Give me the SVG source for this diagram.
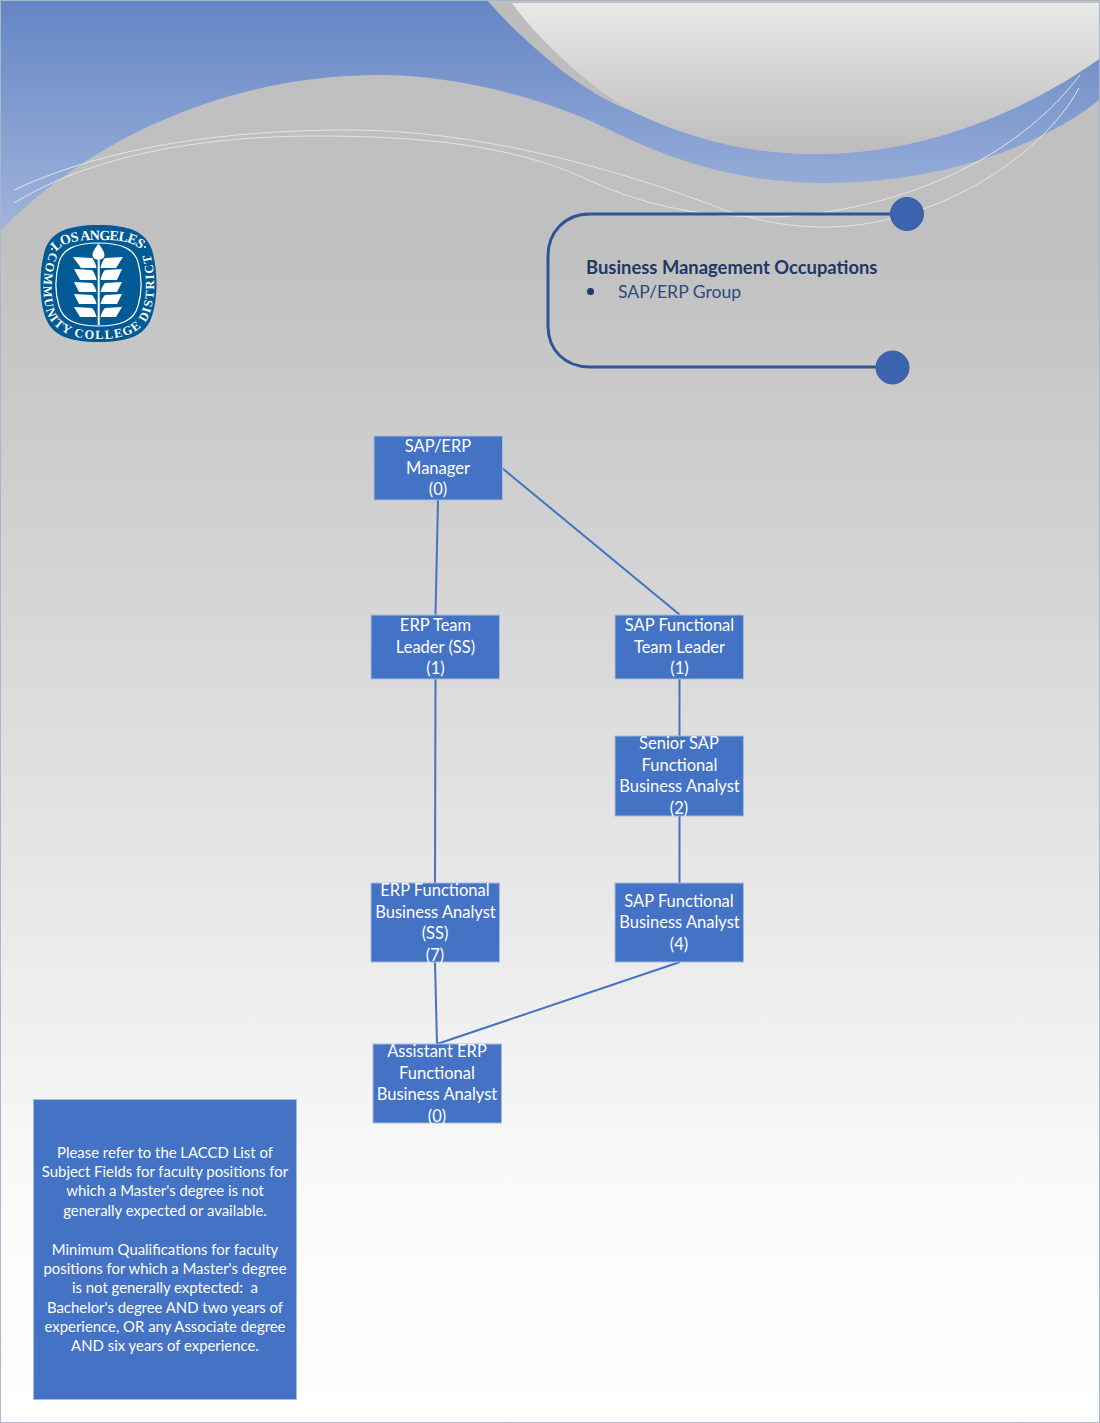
<svg xmlns="http://www.w3.org/2000/svg" xmlns:xlink="http://www.w3.org/1999/xlink" width="1100" height="1423" viewBox="0 0 1100 1423">
<style>
.t{font-family:"Lato","Noto Sans",sans-serif;fill:#fff;font-size:16.5px;text-anchor:middle}
.n{font-family:"Lato","Noto Sans",sans-serif;fill:#fff;font-size:14.9px;text-anchor:middle}
.b{fill:#4472c4;stroke:#a9bbdc;stroke-width:1}
.c{stroke:#4472c4;stroke-width:2;fill:none}
.w{stroke:#e4e4e4;stroke-width:1;fill:none}
.d{fill:#3c63ad;stroke:#3a5fa5;stroke-width:1}
.lg{font-family:"Liberation Serif",serif;fill:#fff;font-weight:bold}
.lf{fill:#fff}
</style>
<defs>
<linearGradient id="bg" x1="0" y1="0" x2="0" y2="1"><stop offset="0" stop-color="#bfbfbf"/><stop offset=".17" stop-color="#c0c0c0"/><stop offset=".84" stop-color="#fafafa"/><stop offset="1" stop-color="#fff"/></linearGradient>
<linearGradient id="bl" gradientUnits="userSpaceOnUse" x1="0" y1="0" x2="0" y2="230"><stop offset="0" stop-color="#6486c4"/><stop offset="1" stop-color="#a0b4dc"/></linearGradient>
<linearGradient id="wh" gradientUnits="userSpaceOnUse" x1="0" y1="3" x2="0" y2="150"><stop offset="0" stop-color="#e9e9e9"/><stop offset="1" stop-color="#bdbdbd"/></linearGradient>
<path id="lt" d="M56 252C64 241 80 240 98 240C118 240 133 241 141 250"/>
<path id="lb" d="M50 252C42 272 41 300 49 318C60 336 80 339 98 339C118 339 138 336 148 318C156 300 156 272 149 250"/>
</defs>
<rect id="page" x="0.5" y="0.5" width="1099" height="1422" fill="url(#bg)" stroke="#aab4cc"/>
<path id="band" fill="url(#bl)" d="M1 1H488C560 85 680 154 814 154C920 154 1020 115 1099 59V100C1050 140 950 183 825 183C740 183 670 160 610 130C550 100 460 75 379 75C240 75 100 130 1 230Z"/>
<path id="sliver" fill="#bdbdbd" d="M488 1H514L628 110C570 85 530 45 488 1Z"/>
<path id="bowl" fill="url(#wh)" d="M512 3H1099V59C1020 115 920 154 814 154C747 154 683.500 136.750 627.750 108.900C580 80 535 35 512 3Z"/>
<g id="swooshes">
<path class="w" d="M14 190C110 145 230 130 351 130C470 130 610 165 730 212C765 222 790 227 825 227C930 227 1040 160 1079 88"/>
<path class="w" d="M14 203C100 150 220 136 316 136C420 136 510 145 582 177C630 200 690 218 770 217C860 215 1000 180 1080 75"/>
</g>
<g id="logo">
<path fill="#005a96" d="M98.500 225C130 225 146 232 152 250C158 270 158 298 152 316C146 335 130 342 98.500 342C68 342 51 335 45 316C39 298 39 270 45 250C51 232 68 225 98.500 225Z"/>
<path fill="none" stroke="#fff" stroke-width="1.2" d="M98.500 243C122 243 134 249 138 262C142 277 142 293 138 306C134 320 122 326 98.500 326C75 326 63 320 59 306C55 293 55 277 59 262C63 249 75 243 98.500 243Z"/>
<path class="lf" d="M98.500 243.500C103 250 105.500 253 104 257C102.500 260.500 94.500 260.500 93 257C91.500 253 94 250 98.500 243.500Z"/>
<rect class="lf" x="97.700" y="258" width="2" height="67"/>
<path class="lf" d="M73 257L92 258C94 260 95.500 263 96.500 268H81ZM123 257L105 258C103 260 101.500 263 100.500 268H116ZM74 269L92 270C94 272 95.500 275 96.500 280H80ZM122 269L105 270C103 272 101.500 275 100.500 280H117ZM74 282L92 283C94 285 95.500 288 96.500 292H79ZM122 282L105 283C103 285 101.500 288 100.500 292H117ZM74 294L92 295C94 297 95.500 300 96.500 304H79ZM122 294L105 295C103 297 101.500 300 100.500 304H117ZM74 307L92 308C94 310 95.500 313 96.500 317H80ZM122 307L105 308C103 310 101.500 313 100.500 317H116Z"/>
<circle class="lf" cx="52" cy="249" r="1"/><circle class="lf" cx="145" cy="247" r="1"/>
<text class="lg" font-size="14"><textPath xlink:href="#lt" href="#lt" textLength="90">LOS ANGELES</textPath></text>
<text class="lg" font-size="12.500"><textPath xlink:href="#lb" href="#lb" textLength="245">COMMUNITY COLLEGE DISTRICT</textPath></text>
</g>
<g id="title">
<path fill="none" stroke="#2f5597" stroke-width="3" d="M907 214H590C565 214 548 232 548 256V326C548 350 565 367 590 367H892"/>
<circle class="d" cx="907" cy="214" r="16.500"/>
<circle class="d" cx="892.500" cy="367.500" r="16.500"/>
<text x="586" y="273.500" font-family="Lato,'Noto Sans',sans-serif" font-size="18.400" font-weight="bold" fill="#203864">Business Management Occupations</text>
<circle cx="590.500" cy="291.500" r="3.500" fill="#203864"/>
<text x="618" y="297.500" font-family="Lato,'Noto Sans',sans-serif" font-size="17.600" fill="#2f4a7c">SAP/ERP Group</text>
</g>
<g id="connectors">
<path class="c" d="M438 500L435.500 615M502 468L680 615M435.500 679L435 883M679.500 679V736M679.500 816V883M435 962L437 1044M680 962L437 1044"/>
</g>
<g id="n1"><rect class="b" x="374" y="436" width="128.500" height="64"/><text class="t" x="438" y="452">SAP/ERP</text><text class="t" x="438" y="473.500">Manager</text><text class="t" x="438" y="495">(0)</text></g>
<g id="n2"><rect class="b" x="371" y="615" width="128.500" height="64"/><text class="t" x="435.500" y="631">ERP Team</text><text class="t" x="435.500" y="652.500">Leader (SS)</text><text class="t" x="435.500" y="674">(1)</text></g>
<g id="n3"><rect class="b" x="615" y="615" width="128.500" height="64"/><text class="t" x="679.500" y="631">SAP Functional</text><text class="t" x="679.500" y="652.500">Team Leader</text><text class="t" x="679.500" y="674">(1)</text></g>
<g id="n4"><rect class="b" x="615" y="736" width="128.500" height="80"/><text class="t" x="679" y="749">Senior SAP</text><text class="t" x="679.500" y="770.500">Functional</text><text class="t" x="679.500" y="792">Business Analyst</text><text class="t" x="679" y="813.500">(2)</text></g>
<g id="n5"><rect class="b" x="371" y="883" width="128.500" height="79"/><text class="t" x="435" y="896">ERP Functional</text><text class="t" x="435.500" y="917.500">Business Analyst</text><text class="t" x="435" y="939">(SS)</text><text class="t" x="435" y="960.500">(7)</text></g>
<g id="n6"><rect class="b" x="615" y="883" width="128.500" height="79"/><text class="t" x="679" y="906.500">SAP Functional</text><text class="t" x="679.500" y="928">Business Analyst</text><text class="t" x="679" y="949.500">(4)</text></g>
<g id="n7"><rect class="b" x="373" y="1044" width="128.500" height="79"/><text class="t" x="437" y="1057">Assistant ERP</text><text class="t" x="437" y="1078.500">Functional</text><text class="t" x="437" y="1100">Business Analyst</text><text class="t" x="437" y="1121.500">(0)</text></g>
<g id="note"><rect class="b" x="33.500" y="1099.500" width="263" height="300"/>
<text class="n" x="165" y="1157.500">Please refer to the LACCD List of</text>
<text class="n" x="165" y="1177">Subject Fields for faculty positions for</text>
<text class="n" x="165" y="1196">which a Master's degree is not</text>
<text class="n" x="165" y="1215.500">generally expected or available.</text>
<text class="n" x="165" y="1254.500">Minimum Qualifications for faculty</text>
<text class="n" x="165" y="1274">positions for which a Master's degree</text>
<text class="n" x="165" y="1293" xml:space="preserve">is not generally exptected:  a</text>
<text class="n" x="165" y="1312.500">Bachelor's degree AND two years of</text>
<text class="n" x="165" y="1332">experience, OR any Associate degree</text>
<text class="n" x="165" y="1351">AND six years of experience.</text>
</g>
</svg>
